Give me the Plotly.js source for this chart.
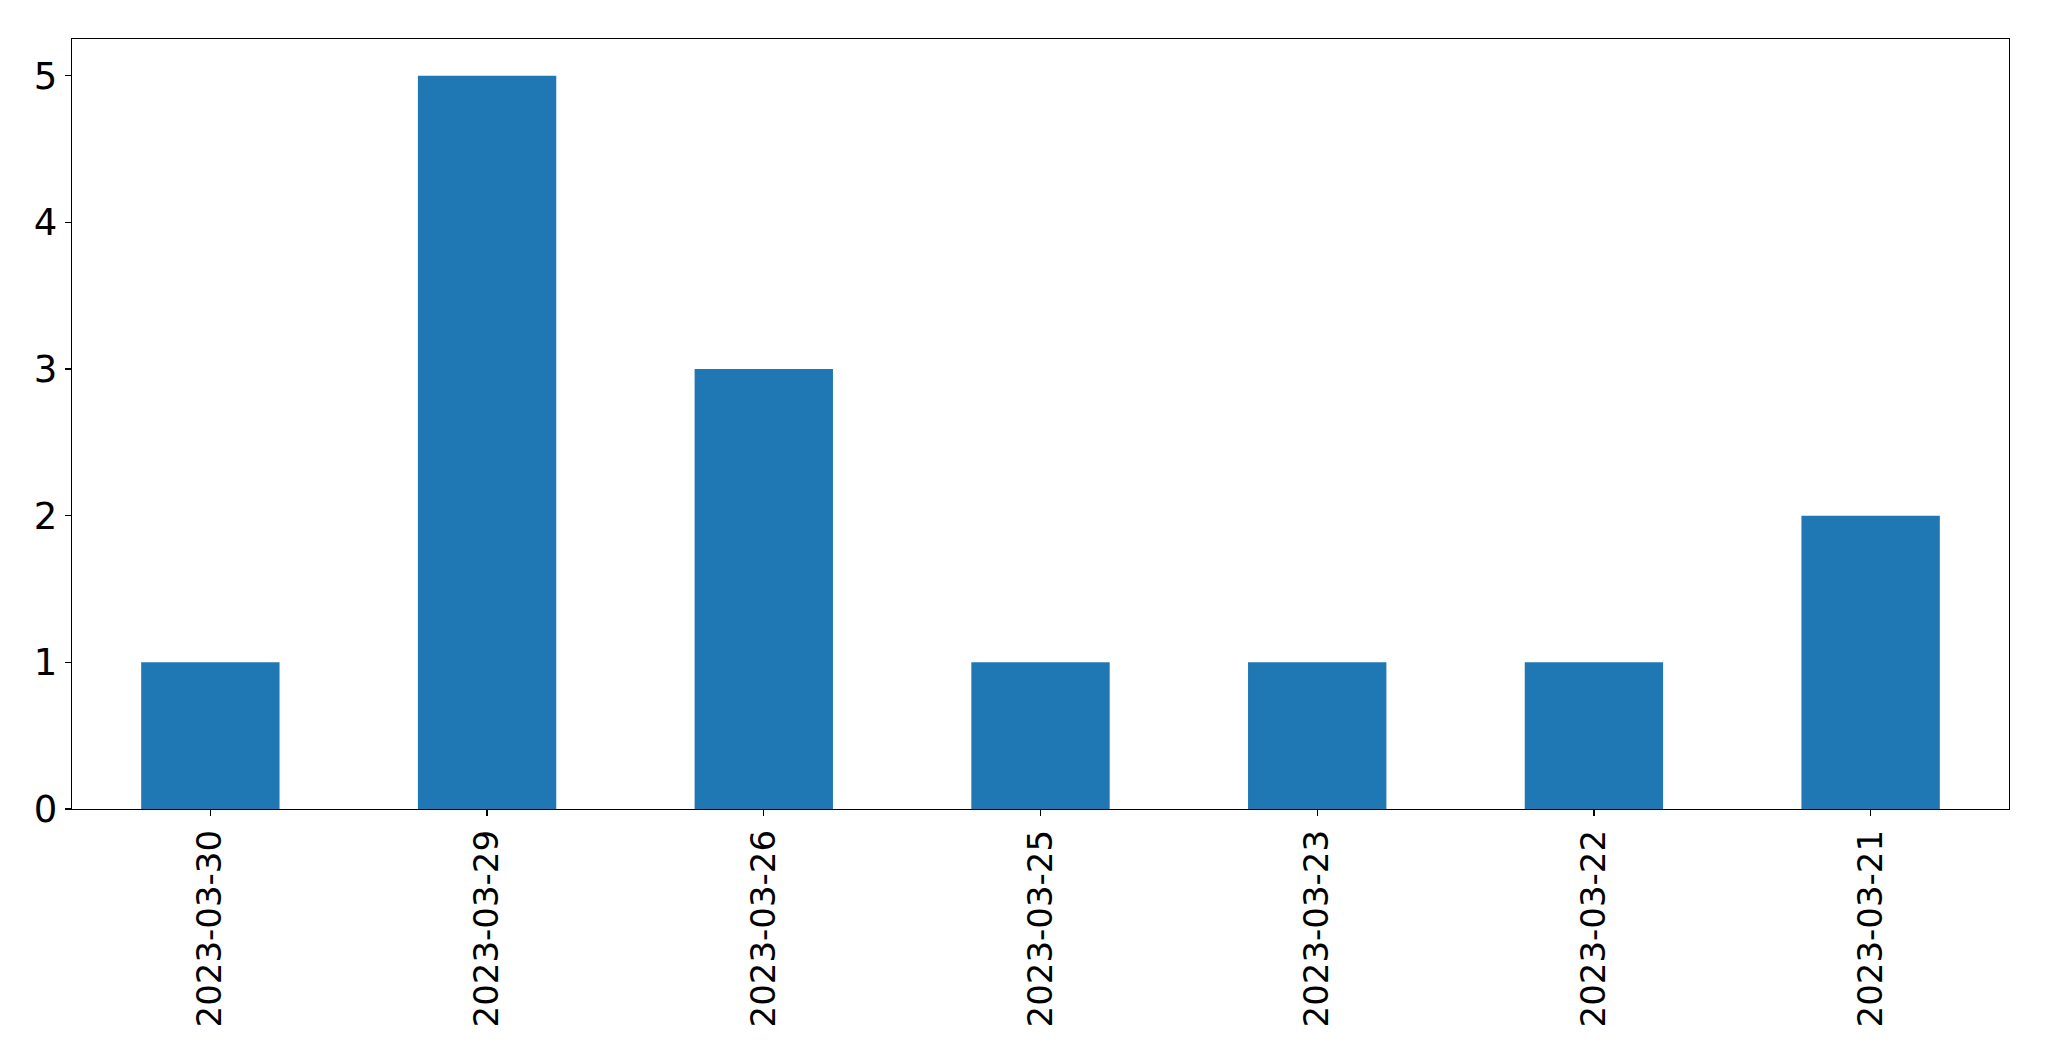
<!DOCTYPE html>
<html>
<head>
<meta charset="utf-8">
<script src="https://cdn.plot.ly/plotly-3.0.1.min.js"></script>
<style>html,body{margin:0;padding:0;background:#fff;}</style>
</head>
<body>
<div id="chart" style="width:2049px;height:1061px;"></div>
<script>
const categories = ["2023-03-30", "2023-03-29", "2023-03-26", "2023-03-25", "2023-03-23", "2023-03-22", "2023-03-21"];
const counts = [1, 5, 3, 1, 1, 1, 2];
const yTicks = [0, 1, 2, 3, 4, 5];

const trace = {
  type: "bar",
  x: categories,
  y: counts,
  width: 0.5,
  marker: { color: "#1f77b4", line: { width: 0 } },
  hoverinfo: "x+y"
};

const layout = {
  width: 2049,
  height: 1061,
  margin: { l: 72, r: 40, t: 39, b: 252 },
  paper_bgcolor: "#ffffff",
  plot_bgcolor: "#ffffff",
  showlegend: false,
  font: { family: "DejaVu Sans", size: 34, color: "#000000" },
  bargap: 0.5,
  xaxis: {
    type: "category",
    range: [-0.5, categories.length - 0.5],
    tickangle: -90,
    ticks: "outside",
    ticklen: 6,
    tickwidth: 1.3,
    tickcolor: "#000000",
    showline: true,
    linecolor: "#000000",
    linewidth: 1.3,
    mirror: true,
    showgrid: false,
    zeroline: false,
    tickfont: { family: "DejaVu Sans", size: 34, color: "#000000" }
  },
  yaxis: {
    range: [0, 5.25],
    tickmode: "array",
    tickvals: yTicks,
    ticktext: yTicks.map(String),
    ticks: "outside",
    ticklen: 6,
    tickwidth: 1.3,
    tickcolor: "#000000",
    showline: true,
    linecolor: "#000000",
    linewidth: 1.3,
    mirror: true,
    showgrid: false,
    zeroline: false,
    tickfont: { family: "DejaVu Sans", size: 37, color: "#000000" }
  }
};

Plotly.newPlot("chart", [trace], layout, { displayModeBar: false, staticPlot: true });
</script>
</body>
</html>
